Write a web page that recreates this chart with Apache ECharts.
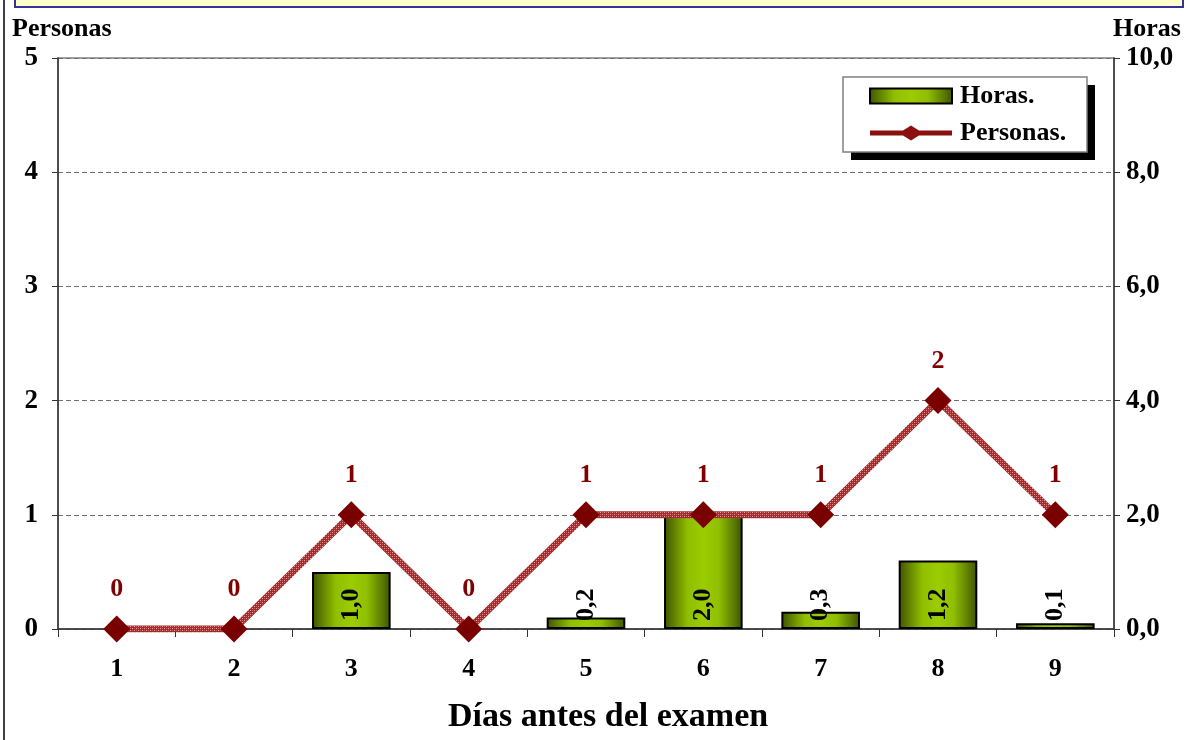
<!DOCTYPE html>
<html>
<head>
<meta charset="utf-8">
<script src="https://cdn.jsdelivr.net/npm/echarts@6/dist/echarts.min.js"></script>
<style>
  html, body { margin: 0; padding: 0; background: #ffffff; }
  #chart { width: 1193px; height: 740px; }
</style>
</head>
<body>
<div id="chart"></div>
<script>
// Days before the exam, study hours (right axis) and people (left axis)
const dias = ['1', '2', '3', '4', '5', '6', '7', '8', '9'];
const horas = [0, 0, 1.0, 0, 0.2, 2.0, 0.3, 1.2, 0.1];
const personas = [0, 0, 1, 0, 1, 1, 1, 2, 1];

const FONT = '"Liberation Serif", "Times New Roman", serif';
const comma = v => v.toFixed(1).replace('.', ',');

// horizontal shading of the bars: dark edges, bright centre
const barFill = {
  type: 'linear', x: 0, y: 0, x2: 1, y2: 0,
  colorStops: [
    { offset: 0, color: '#3f5200' },
    { offset: 0.3, color: '#8fbf00' },
    { offset: 0.5, color: '#9ccc00' },
    { offset: 0.7, color: '#8fbf00' },
    { offset: 1, color: '#3f5200' }
  ]
};

// small checkered texture for the Personas line
const tex = document.createElement('canvas');
tex.width = 4; tex.height = 4;
(function () {
  const c = tex.getContext('2d');
  c.fillStyle = '#a32a2a';
  c.fillRect(0, 0, 4, 4);
  c.fillStyle = '#e0a0a0';
  c.fillRect(0, 0, 1, 1);
  c.fillRect(2, 2, 1, 1);
  c.fillStyle = '#c86060';
  c.fillRect(2, 0, 1, 1);
  c.fillRect(0, 2, 1, 1);
})();
const lineTexture = { image: tex, repeat: 'repeat' };

// zero-height bars get no outline
const barData = horas.map(v => (v > 0 ? v : { value: v, itemStyle: { borderWidth: 0 } }));

// legend glyph for the line series: thick stroke with a diamond in the middle
const lineIcon = 'path://M0,5 L33,5 L41,0 L49,5 L82,5 L82,10 L49,10 L41,15 L33,10 L0,10 Z';

const chart = echarts.init(document.getElementById('chart'), null, { renderer: 'canvas' });

chart.setOption({
  backgroundColor: '#ffffff',
  animation: false,
  textStyle: { fontFamily: FONT },
  grid: {
    left: 58, right: 79, top: 58, bottom: 111,
    show: true, borderColor: '#808080', borderWidth: 1.5, backgroundColor: 'transparent'
  },
  legend: {
    orient: 'vertical',
    left: 869,
    top: 83,
    padding: 0,
    itemGap: 11,
    itemWidth: 82,
    itemHeight: 15,
    textStyle: { fontFamily: FONT, fontWeight: 'bold', fontSize: 26, lineHeight: 26, color: '#000', padding: [0, 0, 0, 3] },
    data: [
      { name: 'Horas.', icon: 'rect', itemStyle: { borderColor: '#000', borderWidth: 2 } },
      { name: 'Personas.', icon: lineIcon, itemStyle: { color: '#8a1010' } }
    ]
  },
  xAxis: {
    type: 'category',
    data: dias,
    boundaryGap: true,
    axisLine: { lineStyle: { color: '#333', width: 1.5 } },
    axisTick: { show: true, length: 8, lineStyle: { color: '#333' } },
    axisLabel: { margin: 27, fontFamily: FONT, fontWeight: 'bold', fontSize: 26, color: '#000' }
  },
  yAxis: [
    {
      type: 'value',
      min: 0, max: 5, interval: 1,
      position: 'left',
      axisLine: { show: true, lineStyle: { color: '#333', width: 1.5 } },
      axisTick: { show: true, length: 6, lineStyle: { color: '#333' } },
      axisLabel: { margin: 20, fontFamily: FONT, fontWeight: 'bold', fontSize: 27, color: '#000' },
      splitLine: { show: true, lineStyle: { color: '#707070', type: [5, 3], width: 1 } }
    },
    {
      type: 'value',
      min: 0, max: 10, interval: 2,
      position: 'right',
      axisLine: { show: true, lineStyle: { color: '#333', width: 1.5 } },
      axisTick: { show: true, length: 6, lineStyle: { color: '#333' } },
      axisLabel: { margin: 12, formatter: comma, fontFamily: FONT, fontWeight: 'bold', fontSize: 27, color: '#000' },
      splitLine: { show: false }
    }
  ],
  series: [
    {
      name: 'Horas.',
      type: 'bar',
      yAxisIndex: 1,
      data: barData,
      barWidth: '67%',
      itemStyle: { color: barFill, borderColor: '#000', borderWidth: 2 },
      label: {
        show: true,
        position: 'insideBottom',
        rotate: 90,
        align: 'left',
        verticalAlign: 'middle',
        distance: 8,
        formatter: p => (p.value > 0 ? comma(p.value) : ''),
        fontFamily: FONT, fontWeight: 'bold', fontSize: 26, color: '#000'
      },
      z: 2
    },
    {
      name: 'Personas.',
      type: 'line',
      data: personas,
      symbol: 'diamond',
      symbolSize: [27, 27],
      itemStyle: { color: '#7a0000' },
      lineStyle: { color: lineTexture, width: 7 },
      label: {
        show: true,
        position: 'top',
        distance: 13,
        fontFamily: FONT, fontWeight: 'bold', fontSize: 26, color: '#800000'
      },
      z: 5
    }
  ],
  graphic: [
    // title band along the top edge
    { type: 'rect', shape: { x: 15, y: -4, width: 1168, height: 11 },
      style: { fill: '#ffffcc', stroke: '#333399', lineWidth: 2 }, z: 10 },
    // outer frame edge on the left
    { type: 'line', shape: { x1: 4, y1: 0, x2: 4, y2: 740 },
      style: { stroke: '#000', lineWidth: 1.5 }, z: 10 },
    // legend frame with its drop shadow
    { type: 'rect', shape: { x: 851, y: 85, width: 244, height: 75 },
      style: { fill: '#000' }, z: 0 },
    { type: 'rect', shape: { x: 843, y: 77, width: 244, height: 75 },
      style: { fill: '#fff', stroke: '#808080', lineWidth: 1.5 }, z: 1 },
    { type: 'text', left: 12, top: 16,
      style: { text: 'Personas', font: 'bold 26px ' + FONT, fill: '#000' } },
    { type: 'text', left: 1113, top: 16,
      style: { text: 'Horas', font: 'bold 26px ' + FONT, fill: '#000' } },
    { type: 'text', left: 448, top: 700,
      style: { text: 'Días antes del examen', font: 'bold 34px ' + FONT, fill: '#000' } }
  ]
});
</script>
</body>
</html>
